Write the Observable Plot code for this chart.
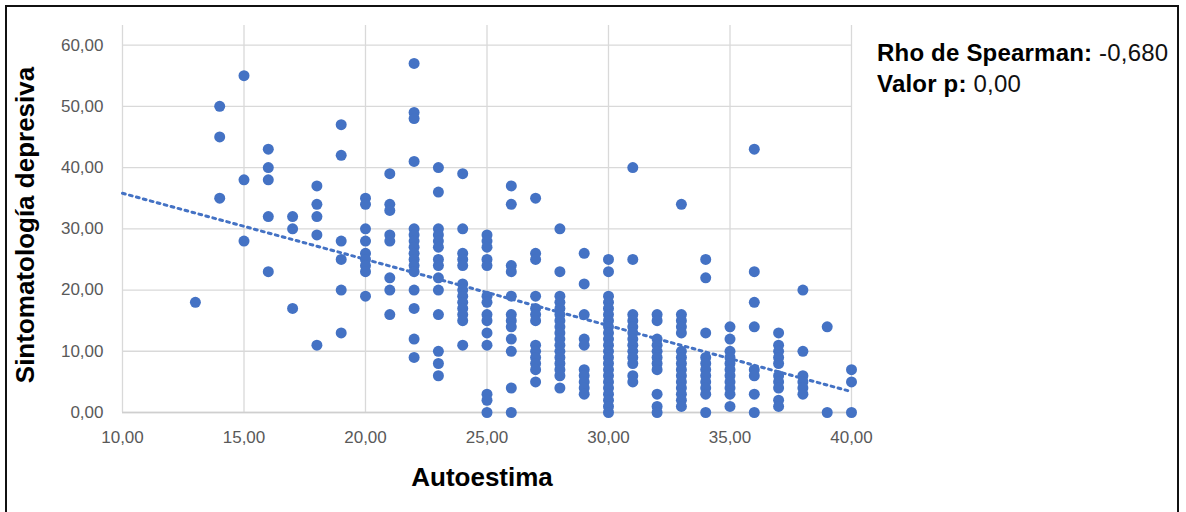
<!DOCTYPE html>
<html>
<head>
<meta charset="utf-8">
<script src="https://cdn.jsdelivr.net/npm/d3@7"></script>
<script src="https://cdn.jsdelivr.net/npm/@observablehq/plot@0.6"></script>
<style>
  html, body { margin: 0; padding: 0; width: 1186px; height: 512px; overflow: hidden; background: #fff; }
  #wrap { position: relative; width: 1186px; height: 512px; }
  #frame { position: absolute; left: 5px; top: 5px; width: 1174px; height: 530px; border: 2.5px solid #111; box-sizing: border-box; pointer-events: none; }
  #legend { position: absolute; left: 877px; top: 37px; font-family: "Liberation Sans", Arial, sans-serif; font-size: 24px; letter-spacing: 0.2px; line-height: 31px; color: #111; }
  #legend b { font-weight: bold; color: #000; }
</style>
</head>
<body>
<div id="wrap">
  <div id="chart"></div>
  <div id="frame"></div>
  <div id="legend">
    <div><b>Rho de Spearman:</b> -0,680</div>
    <div><b>Valor p:</b> 0,00</div>
  </div>
</div>
<script>
// Autoestima (x) categories and Sintomatología depresiva values for each
const autoestima = [13,14,15,16,17,18,19,20,21,22,23,24,25,26,27,28,29,30,31,32,33,34,35,36,37,38,39,40];
const sintomatologia = [
  [18],
  [50,45,35],
  [55,38,28],
  [43,40,38,32,23],
  [32,30,17],
  [37,34,32,29,11],
  [47,42,28,25,20,13],
  [35,34,30,28,26,25,24,23,19],
  [39,34,33,29,28,22,20,16],
  [57,49,48,41,30,29,28,27,26,25,24,23,20,17,12,9],
  [40,36,30,29,28,27,25,24,22,20,16,10,8,6],
  [39,30,26,25,24,21,20,19,18,17,16,15,11],
  [29,28,27,25,24,19,18,16,15,13,11,3,2,0],
  [37,34,24,23,19,16,15,14,12,10,4,0],
  [35,26,25,19,17,16,15,11,10,9,8,7,5],
  [30,23,19,18,17,16,15,14,13,12,11,10,9,8,7,6,4],
  [26,21,16,12,11,7,6,5,4,3],
  [25,23,19,18,17,16,15,14,13,12,11,10,9,8,7,6,5,4,3,2,1,0],
  [40,25,16,15,14,13,12,11,10,9,8,6,5],
  [16,15,12,11,10,9,8,7,3,1,0],
  [34,16,15,14,13,10,9,8,7,6,5,4,3,2,1],
  [25,22,13,9,8,7,6,5,4,3,0],
  [14,12,10,9,8,7,6,5,4,3,1],
  [43,23,18,14,7,6,3,0],
  [13,11,10,9,8,6,5,4,2,1],
  [20,10,6,5,4,3],
  [14,0],
  [7,5,0]
];
// Trend line
const trendX = [10, 40];
const trendY = [35.8, 3.4];

const xTicks = [10,15,20,25,30,35,40];
const yTicks = [0,10,20,30,40,50,60];

const points = autoestima.flatMap((x, i) => sintomatologia[i].map(y => ({x, y})));
const trend = trendX.map((x, i) => ({x, y: trendY[i]}));
const fmt = d => d.toFixed(2).replace(".", ",");

const chart = Plot.plot({
  width: 1186,
  height: 512,
  marginLeft: 122,
  marginRight: 335,
  marginTop: 25,
  marginBottom: 100,
  style: { fontFamily: "'Liberation Sans', Arial, sans-serif", background: "transparent" },
  x: { domain: [10, 40] },
  y: { domain: [0, 63.2] },
  marks: [
    Plot.gridX(xTicks, { stroke: "#d9d9d9", strokeOpacity: 1, strokeWidth: 1.3 }),
    Plot.gridY(yTicks, { stroke: "#d9d9d9", strokeOpacity: 1, strokeWidth: 1.3 }),
    Plot.ruleY([0], { stroke: "#cfcfcf", strokeWidth: 1.5 }),
    Plot.axisX(xTicks, { tickSize: 0, tickPadding: 18, tickFormat: fmt, fontSize: 17, fill: "#595959", label: null }),
    Plot.axisY(yTicks, { tickSize: 0, tickPadding: 19, tickFormat: fmt, fontSize: 17, fill: "#595959", label: null }),
    Plot.line(trend, { x: "x", y: "y", stroke: "#4472C4", strokeWidth: 3, strokeDasharray: "2.8,4.4" }),
    Plot.dot(points, { x: "x", y: "y", r: 5.5, fill: "#4472C4", stroke: "none" }),
    Plot.text(["Autoestima"], { frameAnchor: "bottom", dx: -5, dy: 73, fontSize: 26, fontWeight: "bold", fill: "#000" }),
    Plot.text(["Sintomatología depresiva"], { frameAnchor: "left", textAnchor: "middle", rotate: -90, dx: -97, dy: 6, fontSize: 26, fontWeight: "bold", fill: "#000" })
  ]
});
document.getElementById("chart").appendChild(chart);
</script>
</body>
</html>
